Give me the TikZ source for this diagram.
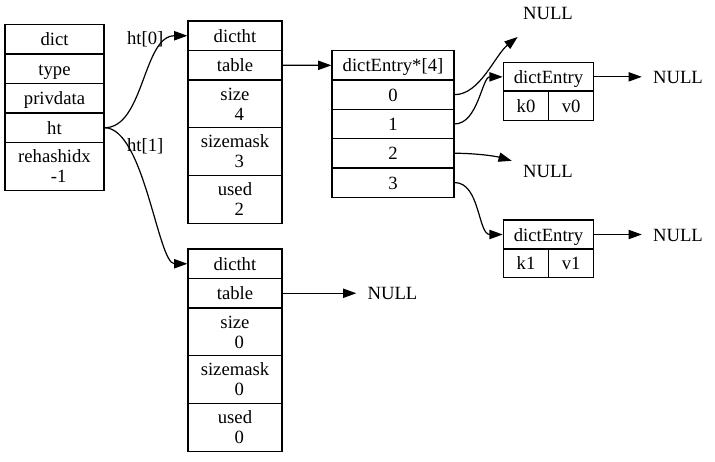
\documentclass[tikz,border=0pt]{standalone}
\usepackage{fontspec}
\setmainfont{Liberation Serif}
\usetikzlibrary{arrows.meta}
\newcommand\twol[2]{\begin{tabular}{@{}c@{}}#1\\\hspace*{8.5pt}#2\end{tabular}}
\begin{document}
\begin{tikzpicture}[x=1pt,y=-1pt,
  every node/.style={font=\fontsize{18.67pt}{20pt}\selectfont, inner sep=0pt, text height=13pt, text depth=0pt},
  rec/.style={draw, line width=1.2pt},
  dcell/.style={rec, minimum width=99},
  hcell/.style={rec, minimum width=94},
  acell/.style={rec, minimum width=122, minimum height=29.3},
  one/.style={minimum height=29.5},
  two/.style={minimum height=47.75},
  nul/.style={minimum width=72, minimum height=48},
  lnk/.style={line width=1.2pt, -{Triangle[length=13.3pt,width=9.3pt]}}]
\useasboundingbox (0,0) rectangle (715,461);
% dict
\node[dcell, one] (dict) at (54.5,39.25) {dict};
\node[dcell, one] (type) at (54.5,68.75) {type};
\node[dcell, one] (priv) at (54.5,98.25) {privdata};
\node[dcell, one] (ht) at (54.5,127.75) {ht};
\node[dcell, two] (rehash) at (54.5,166.375) {\twol{rehashidx}{-1}};
% dictht 0
\node[hcell, one] (h0) at (235,35.75) {dictht};
\node[hcell, one] (h0tab) at (235,65.25) {table};
\node[hcell, two] (h0size) at (235,103.875) {\twol{size}{4}};
\node[hcell, two] (h0mask) at (235,151.625) {\twol{sizemask}{3}};
\node[hcell, two] (h0used) at (235,199.375) {\twol{used}{2}};
% dictht 1
\node[hcell, one] (h1) at (235,263.75) {dictht};
\node[hcell, one] (h1tab) at (235,293.25) {table};
\node[hcell, two] (h1size) at (235,331.875) {\twol{size}{0}};
\node[hcell, two] (h1mask) at (235,379.625) {\twol{sizemask}{0}};
\node[hcell, two] (h1used) at (235,427.375) {\twol{used}{0}};
% array
\node[acell] (ah) at (393,65.35) {dictEntry*[4]};
\node[acell] (a0) at (393,94.65) {0};
\node[acell] (a1) at (393,123.95) {1};
\node[acell] (a2) at (393,153.25) {2};
\node[acell] (a3) at (393,182.55) {3};
% dictEntry 0
\node[rec, minimum width=90.4, minimum height=28.3] (e0) at (548.5,76.85) {dictEntry};
\node[rec, minimum width=45.4, minimum height=29.7] (k0) at (526,105.85) {k0};
\node[rec, minimum width=45, minimum height=29.7] (v0) at (571.2,105.85) {v0};
% dictEntry 1
\node[rec, minimum width=90.4, minimum height=29] (e1) at (548.5,234.5) {dictEntry};
\node[rec, minimum width=45.4, minimum height=28.7] (k1) at (526,263.35) {k1};
\node[rec, minimum width=45, minimum height=28.7] (v1) at (571.2,263.35) {v1};
% NULLs
\node[nul] (n0) at (548,12.8) {NULL};
\node[nul] (n1) at (678,76.85) {NULL};
\node[nul] (n2) at (548,171.2) {NULL};
\node[nul] (n3) at (678,234.5) {NULL};
\node[nul] (n4) at (392.5,293.25) {NULL};
% labels
\node (l0) at (145.2,37.8) {ht[0]};
\node (l1) at (145.2,145.3) {ht[1]};
% connectors
\draw[lnk] (ht.east) .. controls (144,127.75) and (143,35.75) .. (h0.west);
\draw[lnk] (ht.east) .. controls (144,127.75) and (158,263.75) .. (h1.west);
\draw[lnk] (h0tab.east) -- (ah.west);
\draw[lnk] (h1tab.east) -- (n4);
\draw[lnk] (a0.east) .. controls (480,94.65) and (495,55) .. (n0);
\draw[lnk] (a1.east) .. controls (478,123.95) and (482,76.85) .. (e0.west);
\draw[lnk] (a2.east) .. controls (475,153.25) and (495,156) .. (n2);
\draw[lnk] (a3.east) .. controls (480,182.55) and (478,234.5) .. (e1.west);
\draw[lnk] (e0.east) -- (n1);
\draw[lnk] (e1.east) -- (n3);
\end{tikzpicture}
\end{document}
